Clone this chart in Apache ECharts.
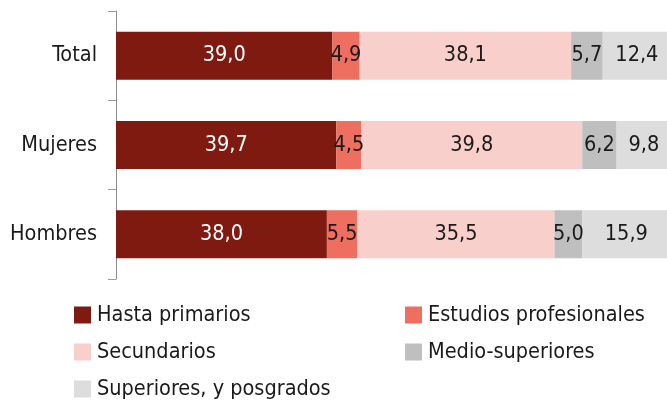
<!DOCTYPE html>
<html><head><meta charset="utf-8">
<script src="https://cdn.jsdelivr.net/npm/echarts@6/dist/echarts.min.js"></script>
<style>html,body{margin:0;padding:0;background:#fff}#c{width:667px;height:406px}</style>
</head><body><div id="c"></div>
<script>
const categories = ['Total', 'Mujeres', 'Hombres'];
const seriesNames = ['Hasta primarios', 'Estudios profesionales', 'Secundarios', 'Medio-superiores', 'Superiores, y posgrados'];
const hastaPrimarios = [39.0, 39.7, 38.0];
const estudiosProfesionales = [4.9, 4.5, 5.5];
const secundarios = [38.1, 39.8, 35.5];
const medioSuperiores = [5.7, 6.2, 5.0];
const superiores = [12.4, 9.8, 15.9];
const seriesValues = [hastaPrimarios, estudiosProfesionales, secundarios, medioSuperiores, superiores];
const colors = ['#7f1a10', '#ee6f60', '#f8cfcb', '#bfbfbf', '#dddddd'];
const labelColors = ['#ffffff', '#1a1a1a', '#1a1a1a', '#1a1a1a', '#1a1a1a'];
const FONT = '"Liberation Sans Narrow", "DejaVu Sans Condensed", sans-serif';
const FS = 21.5;

const legendPos = [[74, 304], [405, 304], [74, 341], [405, 341], [74, 378]];

const chart = echarts.init(document.getElementById('c'));
chart.setOption({
  animation: false,
  color: colors,
  textStyle: { fontFamily: FONT },
  grid: { left: 116, right: -4, top: 11, bottom: 127, containLabel: false, outerBoundsMode: 'none' },
  xAxis: { type: 'value', min: 0, max: 100, show: false },
  yAxis: {
    type: 'category', data: categories, inverse: true,
    axisLine: { show: true, lineStyle: { color: '#8c8c8c', width: 1 } },
    axisTick: { show: true, length: 8, lineStyle: { color: '#9a9a9a' } },
    axisLabel: { margin: 19, fontSize: FS, color: '#1a1a1a', fontFamily: FONT }
  },
  legend: seriesNames.map((n, i) => ({
    data: [n], left: legendPos[i][0], top: legendPos[i][1], padding: 0,
    itemWidth: 17, itemHeight: 17, itemGap: 0, icon: 'rect',
    textStyle: { fontSize: FS, color: '#1a1a1a', fontFamily: FONT, padding: [0, 0, 0, 1] }
  })),
  series: seriesNames.map((n, i) => ({
    name: n, type: 'bar', stack: 'total', barWidth: 48,
    data: seriesValues[i],
    itemStyle: { color: colors[i] },
    label: {
      show: true, position: 'inside', fontSize: FS, color: labelColors[i], fontFamily: FONT,
      formatter: p => p.value.toFixed(1).replace('.', ',')
    }
  }))
});
</script></body></html>
